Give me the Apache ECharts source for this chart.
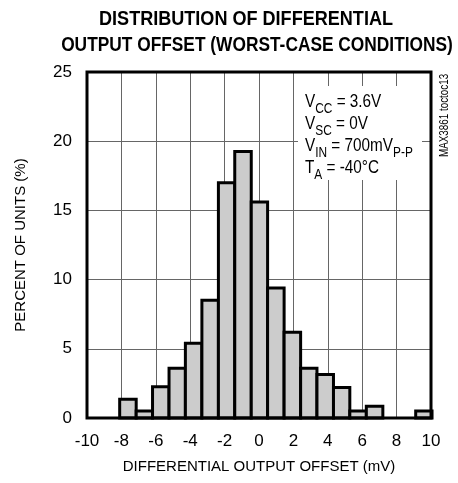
<!DOCTYPE html>
<html>
<head>
<meta charset="utf-8">
<script src="https://cdn.jsdelivr.net/npm/echarts@6/dist/echarts.min.js"></script>
<style>
  html, body { margin: 0; padding: 0; background: #fff; }
  #chart { width: 458px; height: 483px; }
</style>
</head>
<body>
<div id="chart"></div>
<script>
// bin edges (mV) and percentage per bin
var binEdges = [-8.1, -7.14, -6.19, -5.23, -4.28, -3.32, -2.36, -1.41, -0.45, 0.5,
    1.46, 2.42, 3.37, 4.33, 5.28, 6.24, 7.2, 8.15, 9.11, 10.06]
var percentOfUnits = [1.35, 0.5, 2.25, 3.6, 5.4, 8.5, 17.0, 19.25, 15.6, 9.4,
    6.2, 3.6, 3.15, 2.2, 0.5, 0.85, 0, 0, 0.5]
var xTicks = [-10, -8, -6, -4, -2, 0, 2, 4, 6, 8, 10]
var yTicks = [0, 5, 10, 15, 20, 25]

var FONT = '"Liberation Sans", Arial, sans-serif'

var barData = percentOfUnits.map(function (p, i) {
    return [binEdges[i], binEdges[i + 1], p]
}).filter(function (d) { return d[2] > 0 })

function renderBar(params, api) {
    var lo = api.coord([api.value(0), api.value(2)])
    var hi = api.coord([api.value(1), 0])
    return {
        type: 'rect',
        shape: { x: lo[0], y: lo[1], width: hi[0] - lo[0], height: hi[1] - lo[1] },
        style: { fill: '#cccccc', stroke: '#000', lineWidth: 3 }
    }
}

var myChart = echarts.init(document.getElementById('chart'))
myChart.setOption({
    animation: false,
    grid: { left: 87, right: 27, top: 72, bottom: 65, show: true, borderColor: '#000', borderWidth: 3, z: 3 },
    xAxis: {
        type: 'value', min: xTicks[0], max: xTicks[xTicks.length - 1], interval: 2,
        name: 'DIFFERENTIAL OUTPUT OFFSET (mV)', nameLocation: 'middle', nameGap: 41,
        nameTextStyle: { fontFamily: FONT, fontSize: 15, color: '#000' },
        axisLine: { show: false }, axisTick: { show: false },
        axisLabel: { fontFamily: FONT, fontSize: 17, color: '#000', margin: 15 },
        splitLine: { lineStyle: { color: '#666', width: 1 } }
    },
    yAxis: {
        type: 'value', min: yTicks[0], max: yTicks[yTicks.length - 1], interval: 5,
        name: 'PERCENT OF UNITS (%)', nameLocation: 'middle', nameGap: 59,
        nameTextStyle: { fontFamily: FONT, fontSize: 15, color: '#000' },
        axisLine: { show: false }, axisTick: { show: false },
        axisLabel: { fontFamily: FONT, fontSize: 17, color: '#000', margin: 15 },
        splitLine: { lineStyle: { color: '#666', width: 1 } }
    },
    series: [{
        type: 'custom', renderItem: renderBar, data: barData, z: 2,
        encode: { x: [0, 1], y: 2 }
    }],
    graphic: [
        { type: 'text', x: 246, y: 9, scaleX: 0.86, z: 10, style: { text: 'DISTRIBUTION OF DIFFERENTIAL', fontFamily: FONT, fontWeight: 'bold', fontSize: 21, fill: '#000', align: 'center', verticalAlign: 'top' } },
        { type: 'text', x: 257, y: 35, scaleX: 0.825, z: 10, style: { text: 'OUTPUT OFFSET (WORST-CASE CONDITIONS)', fontFamily: FONT, fontWeight: 'bold', fontSize: 21, fill: '#000', align: 'center', verticalAlign: 'top' } },
        { type: 'rect', shape: { x: 298, y: 86, width: 124, height: 94 }, style: { fill: '#fff' }, z: 5 },
        {
            type: 'text', x: 305, y: 89, scaleX: 0.85, z: 6,
            style: {
                text: '{m|V}{s|CC}{m| = 3.6V}\n{m|V}{s|SC}{m| = 0V}\n{m|V}{s|IN}{m| = 700mV}{s|P-P}\n{m|T}{s|A}{m| = -40°C}',
                fill: '#000',
                rich: {
                    m: { fontFamily: FONT, fontSize: 18, lineHeight: 22, verticalAlign: 'bottom' },
                    s: { fontFamily: FONT, fontSize: 14, lineHeight: 22, padding: [0, 0, -5, 0], verticalAlign: 'bottom' }
                }
            }
        },
        { type: 'text', x: 439, y: 157, rotation: Math.PI / 2, scaleX: 0.82, z: 6, style: { text: 'MAX3861 toctoc13', fontFamily: FONT, fontSize: 12, fill: '#000' } }
    ]
})
</script>
</body>
</html>
